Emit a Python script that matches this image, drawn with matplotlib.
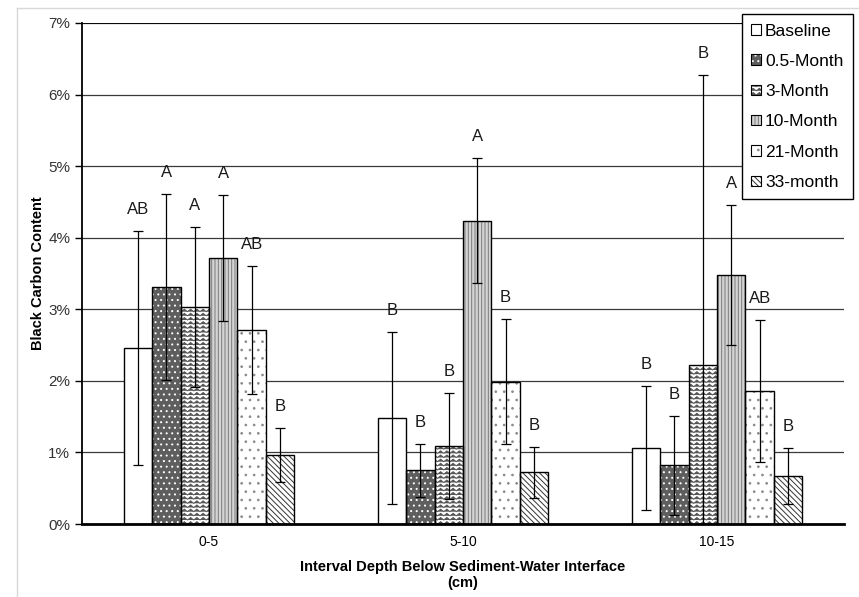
import numpy as np
import matplotlib.pyplot as plt
from matplotlib import hatch as mhatch
from matplotlib.patches import Patch
from matplotlib.lines import Line2D

plt.rcParams["font.family"] = ["Liberation Sans", "DejaVu Sans"]
plt.rcParams["hatch.linewidth"] = 0.7


# '-' hatch drawn as zigzag waves instead of straight lines
class WaveHatch(mhatch.HatchPatternBase):
    def __init__(self, hatch, density):
        self.num_lines = int((hatch.count("-") + hatch.count("+")) * density)
        self.waves = max(int(self.num_lines * 0.7), 1)
        self.pts = 2 * self.waves + 1
        self.num_vertices = self.num_lines * self.pts

    def set_vertices_and_codes(self, vertices, codes):
        if not self.num_lines:
            return
        steps = np.linspace(0.0, 1.0, self.num_lines, endpoint=False)
        steps += 0.5 / self.num_lines
        amp = 0.3 / self.num_lines
        xs = np.linspace(0.0, 1.0, self.pts)
        ys = amp * np.where(np.arange(self.pts) % 2 == 0, -1.0, 1.0)
        v = vertices.reshape(self.num_lines, self.pts, 2)
        v[:, :, 0] = xs
        v[:, :, 1] = steps[:, None] + ys
        c = codes.reshape(self.num_lines, self.pts)
        c[:, :] = mhatch.Path.LINETO
        c[:, 0] = mhatch.Path.MOVETO


mhatch._hatch_types[mhatch._hatch_types.index(mhatch.HorizontalHatch)] = WaveHatch

# --------------------------------------------------
# Data: black carbon content (%) by depth interval
# --------------------------------------------------
depths = ["0-5", "5-10", "10-15"]
series = ["Baseline", "0.5-Month", "3-Month", "10-Month", "21-Month", "33-month"]

baseline = [2.46, 1.48, 1.06]
month_05 = [3.31, 0.75, 0.82]
month_3 = [3.03, 1.09, 2.22]
month_10 = [3.72, 4.24, 3.48]
month_21 = [2.71, 1.99, 1.86]
month_33 = [0.96, 0.72, 0.67]

err_baseline = [1.63, 1.20, 0.87]
err_05 = [1.30, 0.37, 0.69]
err_3 = [1.12, 0.74, 4.06]
err_10 = [0.88, 0.87, 0.98]
err_21 = [0.89, 0.87, 0.99]
err_33 = [0.38, 0.35, 0.39]

letters_baseline = ["AB", "B", "B"]
letters_05 = ["A", "B", "B"]
letters_3 = ["A", "B", "B"]
letters_10 = ["A", "A", "A"]
letters_21 = ["AB", "B", "AB"]
letters_33 = ["B", "B", "B"]

values = [baseline, month_05, month_3, month_10, month_21, month_33]
errors = [err_baseline, err_05, err_3, err_10, err_21, err_33]
letters = [letters_baseline, letters_05, letters_3, letters_10, letters_21, letters_33]

# fill, hatch, hatch colour for each series
styles = [
    ("white", "", "black"),
    ("#5e5e5e", "...", "white"),
    ("white", "----", "#555555"),
    ("#d4d4d4", "|||||", "#7a7a7a"),
    ("white", "..", "#8a8a8a"),
    ("white", "\\\\\\\\\\\\", "#333333"),
]

# --------------------------------------------------
# Figure
# --------------------------------------------------
fig = plt.figure(figsize=(8.59, 5.97), dpi=100)
ax = fig.add_axes([82 / 859, 1 - 524 / 597, (844 - 82) / 859, (524 - 23) / 597])

x = np.arange(len(depths))
width = 0.112
handles = []

for i, name in enumerate(series):
    face, hatch, hcol = styles[i]
    pos = x + (i - 2.5) * width
    ax.bar(pos, values[i], width, color=face, hatch=hatch, edgecolor=hcol,
           linewidth=0, zorder=2)
    ax.bar(pos, values[i], width, fill=False, edgecolor="black",
           linewidth=1.0, zorder=3)
    ax.errorbar(pos, values[i], yerr=errors[i], fmt="none", ecolor="black",
                elinewidth=0.9, capsize=3.5, capthick=0.9, zorder=4)
    for px, v, e, lab in zip(pos, values[i], errors[i], letters[i]):
        ax.text(px, v + e + 0.3, lab, ha="center", va="center",
                fontsize=12, color="#1a1a1a", zorder=5)
    handles.append((Patch(facecolor=face, hatch=hatch, edgecolor=hcol, linewidth=0),
                    Patch(fill=False, edgecolor="black", linewidth=0.8)))

ax.set_xlim(-0.5, 2.5)
ax.set_ylim(0, 7)
ax.set_yticks(np.arange(0, 8))
ax.set_yticklabels([f"{v}%" for v in range(8)])
ax.set_xticks(x)
ax.set_xticklabels(depths)
ax.tick_params(axis="x", length=0, pad=8, labelsize=10)
ax.tick_params(axis="y", length=5, width=1, direction="out", labelsize=11,
               labelcolor="#333333")

ax.yaxis.grid(True, color="#3a3a3a", linewidth=0.9)
ax.set_axisbelow(True)
for s in ["top", "right"]:
    ax.spines[s].set_visible(False)
ax.spines["left"].set_linewidth(1.3)
ax.spines["bottom"].set_linewidth(2)
ax.axhline(7, color="black", linewidth=1.2, zorder=1)

ax.set_ylabel("Black Carbon Content", fontsize=10.5, fontweight="bold", labelpad=2)
ax.set_xlabel("Interval Depth Below Sediment-Water Interface\n(cm)",
              fontsize=10.5, fontweight="bold", labelpad=8)

leg = fig.legend(handles, series, loc="upper right",
                 bbox_to_anchor=(853 / 859, 1 - 14 / 597), borderaxespad=0,
                 fontsize=12.5, handlelength=0.55, handleheight=0.55,
                 handletextpad=0.25, labelspacing=0.88, borderpad=0.55,
                 fancybox=False, framealpha=1, edgecolor="black")
leg.get_frame().set_linewidth(1.0)

# thin frame around the chart area
fig.add_artist(Line2D([17 / 859, 17 / 859], [0, 1 - 8 / 597], color="#d8d8d8", lw=1))
fig.add_artist(Line2D([17 / 859, 1], [1 - 8 / 597, 1 - 8 / 597], color="#d8d8d8", lw=1))

fig.savefig("out.png", dpi=100)
